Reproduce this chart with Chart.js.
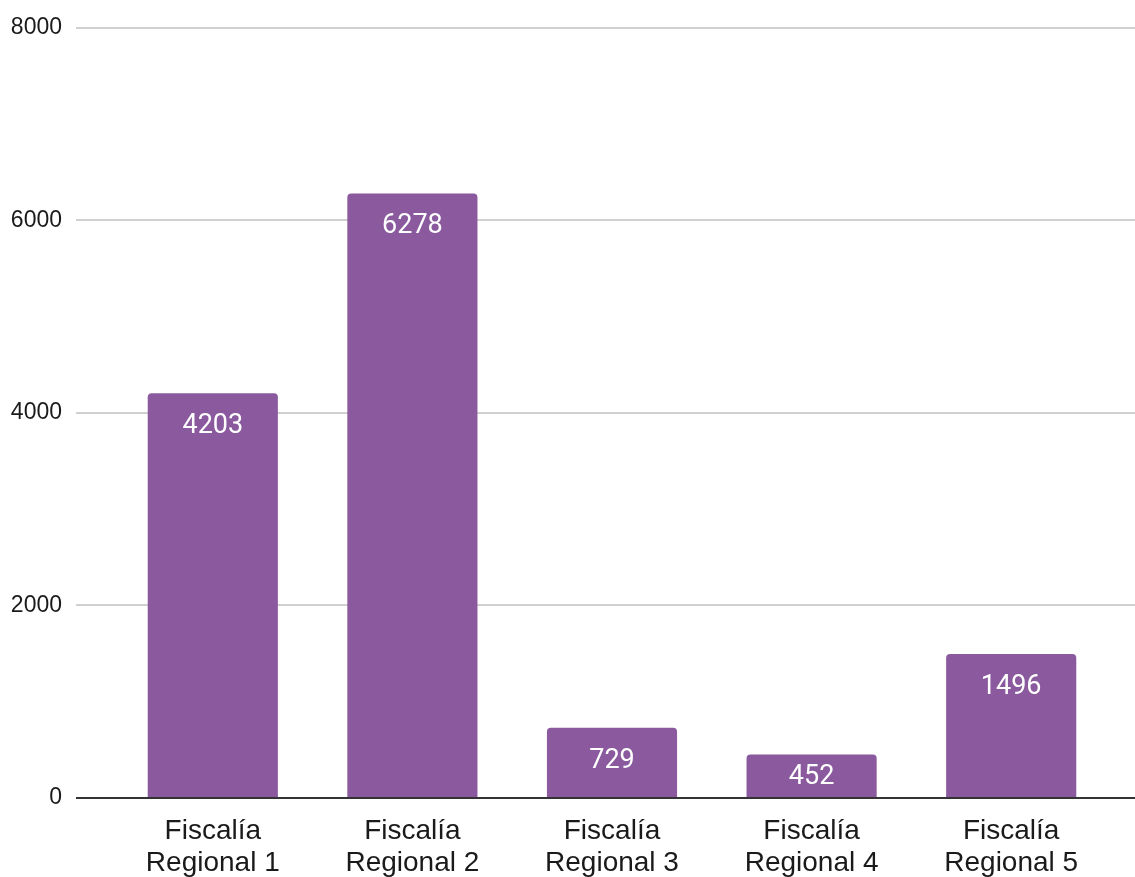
<!DOCTYPE html>
<html>
<head>
<meta charset="utf-8">
<script src="https://cdn.jsdelivr.net/npm/chart.js@4"></script>
<style>
  html, body { margin: 0; padding: 0; background: #fff; overflow: hidden; }
  #wrap { width: 1135px; height: 877px; }
</style>
</head>
<body>
<div id="wrap"><canvas id="barChart"></canvas></div>
<script>
const categories = [
  ["Fiscalía", "Regional 1"],
  ["Fiscalía", "Regional 2"],
  ["Fiscalía", "Regional 3"],
  ["Fiscalía", "Regional 4"],
  ["Fiscalía", "Regional 5"]
];
const values = [4203, 6278, 729, 452, 1496];
const yTicks = [0, 2000, 4000, 6000, 8000];

const barColor = "#8a599e";
const gridColor = "#d0d0d0";
const zeroColor = "#333333";

// value labels inside the top of each bar
const barLabels = {
  id: "barLabels",
  afterDatasetsDraw(chart) {
    const ctx = chart.ctx;
    const meta = chart.getDatasetMeta(0);
    ctx.save();
    ctx.fillStyle = "#ffffff";
    ctx.font = "27px Roboto";
    ctx.textAlign = "center";
    ctx.textBaseline = "middle";
    meta.data.forEach((bar, i) => {
      const h = bar.base - bar.y;
      const off = Math.min(31, h / 2) + 2;
      ctx.fillText(String(values[i]), bar.x, bar.y + off);
    });
    ctx.restore();
  }
};

const gridLineColor = c => (c.tick && c.tick.value === 0 ? zeroColor : gridColor);

new Chart(document.getElementById("barChart").getContext("2d"), {
  type: "bar",
  data: {
    labels: categories,
    datasets: [
      {
        data: values,
        backgroundColor: barColor,
        borderRadius: { topLeft: 4, topRight: 4, bottomLeft: 0, bottomRight: 0 },
        borderSkipped: "start",
        categoryPercentage: 1,
        barPercentage: 0.652
      }
    ]
  },
  plugins: [barLabels],
  options: {
    responsive: true,
    maintainAspectRatio: false,
    animation: false,
    layout: { padding: { top: 14, left: 0, right: 0, bottom: 0 } },
    plugins: {
      legend: { display: false },
      tooltip: { enabled: false }
    },
    scales: {
      x: {
        afterFit: s => { s.height = 79; },
        grid: { display: false, drawTicks: false },
        border: { display: false },
        ticks: {
          color: "#1a1a1a",
          font: { family: "'Liberation Sans', Arial", size: 28, lineHeight: 1.12 },
          padding: 18,
          maxRotation: 0,
          autoSkip: false
        }
      },
      y: {
        min: 0,
        max: 8000,
        afterBuildTicks: s => { s.ticks = yTicks.map(v => ({ value: v })); },
        afterFit: s => { s.width = 113; },
        grid: {
          color: gridLineColor,
          lineWidth: 2,
          tickLength: 37
        },
        border: { display: false },
        ticks: {
          color: "#1a1a1a",
          font: { family: "'Liberation Sans', Arial", size: 23 },
          padding: 14,
          callback: v => String(v)
        }
      },
      y2: {
        position: "right",
        min: 0,
        max: 8000,
        afterBuildTicks: s => { s.ticks = yTicks.map(v => ({ value: v })); },
        afterFit: s => { s.width = 24; },
        grid: {
          color: gridLineColor,
          lineWidth: 2,
          tickLength: 24,
          drawOnChartArea: false
        },
        border: { display: false },
        ticks: { display: false }
      }
    }
  }
});
</script>
</body>
</html>
